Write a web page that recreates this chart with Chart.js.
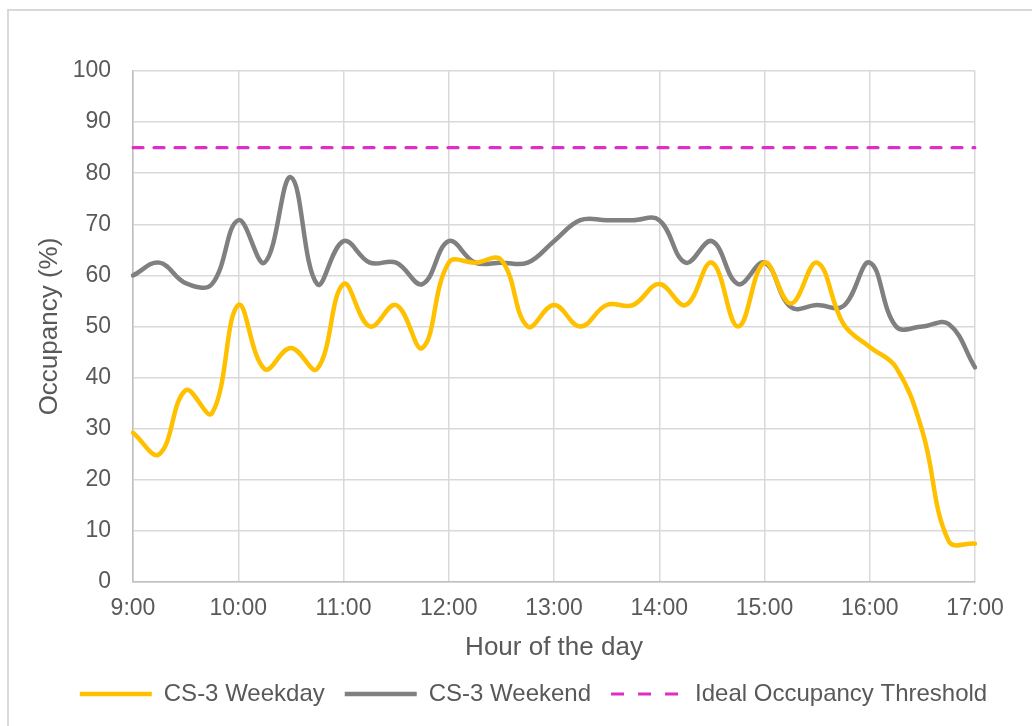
<!DOCTYPE html>
<html>
<head>
<meta charset="utf-8">
<script src="https://cdn.jsdelivr.net/npm/chart.js@4.4.1/dist/chart.umd.min.js"></script>
<style>
  body { margin: 0; background: #fff; }
  #wrap { position: relative; width: 1032px; height: 726px; overflow: hidden; }
  #frame { position: absolute; left: 7px; top: 9px; width: 1100px; height: 800px;
           border-left: 2px solid #d9d9d9; border-top: 2px solid #d9d9d9; }
  #chart { position: absolute; left: 0; top: 0; }
</style>
</head>
<body>
<div id="wrap">
  <div id="frame"></div>
  <canvas id="chart" width="1032" height="726"></canvas>
</div>
<script>
const times = ['9:00','9:15','9:30','9:45','10:00','10:15','10:30','10:45','11:00','11:15','11:30','11:45',
  '12:00','12:15','12:30','12:45','13:00','13:15','13:30','13:45','14:00','14:15','14:30','14:45',
  '15:00','15:15','15:30','15:45','16:00','16:15','16:30','16:45','17:00'];

const weekday = [29.2, 25, 37.5, 33, 54.2, 41.7, 45.8, 41.7, 58.3, 50, 54.2, 45.8,
  62.5, 62.5, 63, 50, 54.2, 50, 54.2, 54.2, 58.3, 54.2, 62.5, 50,
  62.5, 54.5, 62.5, 50.5, 46, 42, 29.5, 8, 7.5];

const weekend = [60, 62.5, 58.5, 58.3, 70.8, 62.5, 79.2, 58.3, 66.7, 62.5, 62.5, 58.3,
  66.7, 62.5, 62.5, 62.5, 66.7, 70.8, 70.8, 70.8, 70.8, 62.5, 66.7, 58.3,
  62.5, 53.8, 54.2, 54, 62.5, 50, 50, 50.5, 42];

const threshold = times.map(() => 85);

const textColor = '#595959';
const fontFamily = '"Liberation Sans", Arial, sans-serif';

new Chart(document.getElementById('chart').getContext('2d'), {
  type: 'line',
  data: {
    labels: times,
    datasets: [
      { label: 'CS-3 Weekday', data: weekday, borderColor: '#FFC000', backgroundColor: '#FFC000',
        borderWidth: 4.5, tension: 0.4, pointRadius: 0, borderCapStyle: 'round' },
      { label: 'CS-3 Weekend', data: weekend, borderColor: '#808080', backgroundColor: '#808080',
        borderWidth: 4.5, tension: 0.4, pointRadius: 0, borderCapStyle: 'round' },
      { label: 'Ideal Occupancy Threshold', data: threshold, borderColor: '#E02DC6', backgroundColor: '#E02DC6',
        borderWidth: 3.2, borderDash: [10, 11], pointRadius: 0, borderCapStyle: 'round' }
    ]
  },
  options: {
    responsive: false,
    animation: false,
    devicePixelRatio: 1,
    layout: { padding: { left: 35, right: 0, top: 71, bottom: 10 } },
    plugins: {
      tooltip: { enabled: false },
      legend: {
        position: 'bottom',
        labels: {
          usePointStyle: true,
          pointStyle: 'line',
          pointStyleWidth: 72,
          padding: 20,
          color: textColor,
          font: { family: fontFamily, size: 24 },
          // point-style legend items lose the dataset dash, so put it back
          generateLabels: chart => Chart.defaults.plugins.legend.labels.generateLabels(chart).map(item => {
            if (chart.data.datasets[item.datasetIndex].borderDash) item.lineDash = [13, 14];
            return item;
          })
        }
      }
    },
    scales: {
      x: {
        grid: {
          drawTicks: false,
          lineWidth: 1.5,
          color: ctx => (ctx.index % 4 === 0 ? '#d9d9d9' : 'rgba(0,0,0,0)')
        },
        border: { color: '#bfbfbf', width: 1.5 },
        ticks: {
          autoSkip: false,
          maxRotation: 0,
          padding: 13,
          color: textColor,
          font: { family: fontFamily, size: 23 },
          callback: (v, i) => (i % 4 === 0 ? times[i] : '')
        },
        title: {
          display: true,
          text: 'Hour of the day',
          color: textColor,
          font: { family: fontFamily, size: 26, lineHeight: 1 },
          padding: { top: 0, bottom: 1 }
        },
        afterFit: s => { s.height = 80; }
      },
      y: {
        min: 0,
        max: 100,
        ticks: {
          stepSize: 10,
          padding: 22,
          color: textColor,
          font: { family: fontFamily, size: 23 }
        },
        grid: { drawTicks: false, lineWidth: 1.5, color: '#d9d9d9' },
        border: { color: '#bfbfbf', width: 1.5 },
        title: {
          display: true,
          text: 'Occupancy (%)',
          color: textColor,
          font: { family: fontFamily, size: 26, lineHeight: 1 },
          padding: { top: 2, bottom: 0 }
        },
        afterFit: s => { s.width = 98; }
      },
      y2: {
        position: 'right',
        grid: { display: false },
        border: { display: false },
        ticks: { display: false },
        afterFit: s => { s.width = 57; }
      }
    }
  }
});
</script>
</body>
</html>
